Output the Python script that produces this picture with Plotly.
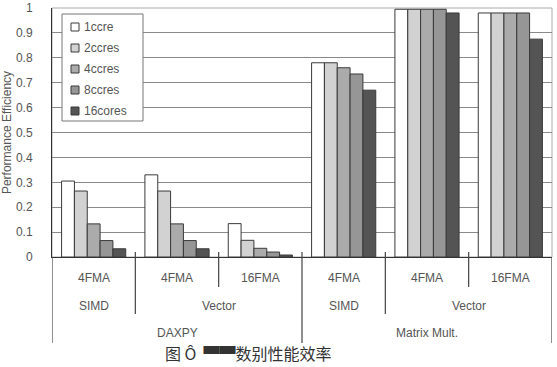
import plotly.graph_objects as go

groups = ["4FMA", "4FMA", "16FMA", "4FMA", "4FMA", "16FMA"]
level2 = ["SIMD", "Vector", "SIMD", "Vector"]
level2_pos = [0, 1.5, 3, 4.5]
level3 = ["DAXPY", "Matrix Mult."]
level3_pos = [1, 4]

series_names = ["1ccre", "2ccres", "4ccres", "8ccres", "16cores"]
c1 = [0.305, 0.33, 0.134, 0.78, 0.995, 0.98]
c2 = [0.265, 0.265, 0.067, 0.78, 0.995, 0.98]
c4 = [0.133, 0.133, 0.035, 0.76, 0.995, 0.98]
c8 = [0.066, 0.066, 0.02, 0.735, 0.995, 0.98]
c16 = [0.033, 0.033, 0.008, 0.67, 0.98, 0.875]
series_values = [c1, c2, c4, c8, c16]
colors = ["#ffffff", "#d2d2d2", "#ababab", "#969696", "#545454"]

yticks = [0, 0.1, 0.2, 0.3, 0.4, 0.5, 0.6, 0.7, 0.8, 0.9, 1]
ytick_text = ["0", "0.1", "0.2", "0.3", "0.4", "0.5", "0.6", "0.7", "0.8", "0.9", "1"]

caption = "图 Ô  ▀▀数别性能效率"

FONT = "Liberation Sans, Arial, sans-serif"
TXT = "#555555"

xpos = list(range(len(groups)))
fig = go.Figure()
for name, vals, col in zip(series_names, series_values, colors):
    fig.add_trace(go.Bar(x=xpos, y=vals, name=name, showlegend=False,
                         marker=dict(color=col, line=dict(color="#3a3a3a", width=1))))

L, T, W, H = 52.0, 8.0, 500.0, 249.0
def py(pix):
    return (257 - pix) / H
def px(pix):
    return (pix - L) / W

annotations = []
for i, g in enumerate(groups):
    annotations.append(dict(x=i, y=py(278), xref="x", yref="paper", text=g, showarrow=False,
                            xanchor="center", yanchor="middle",
                            font=dict(size=12, color=TXT, family=FONT)))
for lab, p in zip(level2, level2_pos):
    annotations.append(dict(x=p, y=py(306), xref="x", yref="paper", text=lab, showarrow=False,
                            xanchor="center", yanchor="middle",
                            font=dict(size=12, color=TXT, family=FONT)))
for lab, p in zip(level3, level3_pos):
    annotations.append(dict(x=p, y=py(333), xref="x", yref="paper", text=lab, showarrow=False,
                            xanchor="center", yanchor="middle",
                            font=dict(size=12, color=TXT, family=FONT)))
annotations.append(dict(x=px(164), y=py(366), xref="paper", yref="paper", text=caption,
                        showarrow=False, xanchor="left", yanchor="bottom", borderpad=0,
                        font=dict(size=16, color="#333333", family="Noto Sans CJK SC")))

shapes = []
seps = [(-0.5, 343), (0.5, 314), (1.5, 287), (2.5, 343), (3.5, 314), (4.5, 287), (5.5, 343)]
for xb, yend in seps:
    y0 = 0 if xb in (-0.5, 5.5) else py(252)
    shapes.append(dict(type="line", xref="x", yref="paper", x0=xb, x1=xb, y0=y0,
                       y1=py(yend), line=dict(color="#444444", width=1.2)))

# custom legend
shapes.append(dict(type="rect", xref="paper", yref="paper", x0=px(62), x1=px(143), y0=py(121), y1=py(14),
                   fillcolor="white", line=dict(color="#777777", width=1), layer="above"))
row_y = [27, 48, 69, 90, 111]
for name, col, ry in zip(series_names, colors, row_y):
    shapes.append(dict(type="rect", xref="paper", yref="paper", x0=px(71), x1=px(79), y0=py(ry + 4), y1=py(ry - 4),
                       fillcolor=col, line=dict(color="#3a3a3a", width=1), layer="above"))
    annotations.append(dict(x=px(82), y=py(ry), xref="paper", yref="paper", text=name, showarrow=False,
                            xanchor="left", yanchor="middle", font=dict(size=12, color=TXT, family=FONT)))

fig.update_layout(
    width=557, height=367,
    margin=dict(l=52, r=5, t=8, b=110),
    paper_bgcolor="white", plot_bgcolor="white",
    barmode="group", bargap=0.23, bargroupgap=0,
    font=dict(family=FONT, size=11, color=TXT),
    showlegend=False,
    xaxis=dict(range=[-0.5, 5.5], showticklabels=False, showgrid=False, zeroline=False,
               showline=True, linecolor="#333333", linewidth=1, ticks="", automargin=False),
    yaxis=dict(range=[0, 1], tickvals=yticks, ticktext=ytick_text, showgrid=True, gridcolor="#8a8a8a",
               gridwidth=1, zeroline=False, showline=True, linecolor="#333333", linewidth=1,
               mirror=False, ticks="", ticklabelstandoff=16, automargin=False,
               title=dict(text="Performance Efficiency", font=dict(size=12, color=TXT, family=FONT), standoff=6),
               tickfont=dict(size=12, color=TXT, family=FONT)),
    annotations=annotations,
    shapes=shapes + [dict(type="rect", xref="paper", yref="paper", x0=0, x1=1, y0=0, y1=1,
                          line=dict(color="#aaaaaa", width=1), layer="below")],
)

fig.write_html("out.html")
